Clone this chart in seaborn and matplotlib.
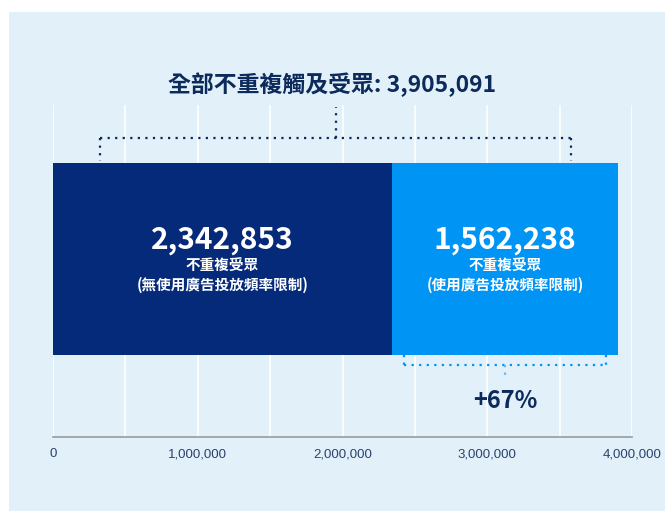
import numpy as np
import pandas as pd
import seaborn as sns
import matplotlib.pyplot as plt
from matplotlib.patches import Rectangle
from matplotlib.ticker import MultipleLocator, FuncFormatter

# datos
segment_values = [2342853, 1562238]
segment_numbers = ["2,342,853", "1,562,238"]
segment_line1 = ["不重複受眾", "不重複受眾"]
segment_line2 = ["(無使用廣告投放頻率限制)", "(使用廣告投放頻率限制)"]
total_label = "全部不重複觸及受眾: 3,905,091"
uplift_label = "+67%"
tick_values = [0, 1000000, 2000000, 3000000, 4000000]

NAVY = "#062a7a"
BLUE = "#0094f5"
BG = "#e1f0f9"
TXT = "#0d2a5c"

sns.set_theme(style="white")
plt.rcParams["font.family"] = ["Noto Sans CJK TC", "DejaVu Sans"]

fig = plt.figure(figsize=(6.65, 5.11), dpi=100)
fig.patch.set_facecolor("white")
fig.patches.append(Rectangle((9 / 665, 0), 1, 1 - 12 / 511, transform=fig.transFigure,
                             facecolor=BG, edgecolor="none", zorder=-10))

ax = fig.add_axes([53 / 665, 1 - 437 / 511, 579 / 665, 332 / 511])
ax.set_facecolor(BG)
ax.patch.set_alpha(0)

total = sum(segment_values)
df = pd.DataFrame({"y": ["bar"], "total": [total], "first": [segment_values[0]]})
sns.barplot(data=df, x="total", y="y", orient="h", color=BLUE, width=0.8,
            saturation=1, linewidth=0, ax=ax, zorder=3)
sns.barplot(data=df, x="first", y="y", orient="h", color=NAVY, width=0.8,
            saturation=1, linewidth=0, ax=ax, zorder=3)

ax.set_xlim(0, 4000000)
ax.set_ylim(0.742, -0.642)
ax.set_xticks(tick_values)
ax.xaxis.set_minor_locator(MultipleLocator(500000))
ax.xaxis.set_major_formatter(FuncFormatter(lambda v, p: f"{int(v):,}"))
ax.grid(True, axis="x", which="both", color="white", linewidth=1.2, zorder=0)
ax.set_axisbelow(True)
ax.set_yticks([])
ax.set_xlabel("")
ax.set_ylabel("")
for s in ["top", "right", "left"]:
    ax.spines[s].set_visible(False)
ax.spines["bottom"].set_color("#9a9a9a")
ax.spines["bottom"].set_linewidth(1.2)
ax.tick_params(axis="x", which="both", length=0, pad=8, labelsize=9.5,
               labelcolor="#2b4170")
for lab in ax.get_xticklabels():
    lab.set_family(["Liberation Sans", "DejaVu Sans"])

# textos dentro de las barras
starts = np.cumsum([0] + segment_values[:-1])
for st, v, num, l1, l2 in zip(starts, segment_values, segment_numbers,
                              segment_line1, segment_line2):
    cx = st + v / 2
    ax.text(cx, -0.08, num, ha="center", va="center", color="white",
            fontsize=21.5, fontweight="bold", zorder=5)
    ax.text(cx, 0.029, l1, ha="center", va="center", color="white",
            fontsize=10.5, fontweight="bold", zorder=5)
    ax.text(cx, 0.108, l2, ha="center", va="center", color="white",
            fontsize=10.5, fontweight="bold", zorder=5)

# corchete superior
dot = (0, (1, 2.4))
c = total / 2
hw = 0.416 * total
ax.plot([c - hw, c + hw], [-0.504, -0.504], color=TXT, lw=1.6, ls=dot, zorder=4)
ax.plot([c - hw, c - hw], [-0.504, -0.41], color=TXT, lw=1.6, ls=dot, zorder=4)
ax.plot([c + hw, c + hw], [-0.504, -0.41], color=TXT, lw=1.6, ls=dot, zorder=4)
ax.plot([c, c], [-0.504, -0.635], color=TXT, lw=1.6, ls=dot, zorder=4)
fig.text(0.5, 1 - 85 / 511, total_label, ha="center", va="center", color=TXT,
         fontsize=16.5, fontweight="bold")

# corchete inferior
c2 = segment_values[0] + segment_values[1] / 2
hw2 = 0.447 * segment_values[1]
ax.plot([c2 - hw2, c2 + hw2], [0.441, 0.441], color=BLUE, lw=1.6, ls=dot, zorder=4)
ax.plot([c2 - hw2, c2 - hw2], [0.4, 0.441], color=BLUE, lw=1.6, ls=dot, zorder=4)
ax.plot([c2 + hw2, c2 + hw2], [0.4, 0.441], color=BLUE, lw=1.6, ls=dot, zorder=4)
ax.plot([c2, c2], [0.441, 0.5], color="#5bb8f5", lw=1.6, ls=dot, zorder=4)
ax.text(c2, 0.59, uplift_label, ha="center", va="center", color=TXT,
        fontsize=17, fontweight="bold", zorder=5)

fig.savefig("out.png", dpi=100, facecolor="white")
